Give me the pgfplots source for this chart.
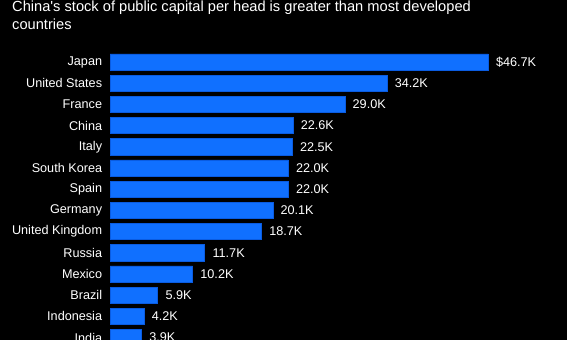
\documentclass[border=0pt]{standalone}
\usepackage{fontspec}
\setmainfont{Liberation Sans}
\usepackage{pgfplots}
\pgfplotsset{compat=1.18}
\definecolor{barblue}{RGB}{16,112,255}
\definecolor{baredge}{RGB}{10,92,225}
\begin{document}
\begin{tikzpicture}
\path[use as bounding box, fill=black] (0,0) rectangle (567bp,340bp);
\clip (0,0) rectangle (567bp,340bp);
\node[anchor=base west, inner sep=0pt, text=white, font=\fontsize{14.7}{18}\selectfont] at (12bp,328.5bp) {China\textquotesingle s stock of public capital per head is greater than most developed};
\node[anchor=base west, inner sep=0pt, text=white, font=\fontsize{14.7}{18}\selectfont] at (12bp,310.5bp) {countries};
\begin{axis}[
  at={(110bp,0bp)}, anchor=south west,
  scale only axis, width=457bp, height=340bp,
  xmin=0, xmax=56.42,
  ymin=-2.925, ymax=13.113, y dir=reverse,
  xbar, bar width=16.3bp, bar shift=0pt,
  axis line style={draw=none},
  xtick=\empty,
  ytick={0,1,2,3,4,5,6,7,8,9,10,11,12,13},
  yticklabels={Japan,United States,France,China,Italy,South Korea,Spain,Germany,United Kingdom,Russia,Mexico,Brazil,Indonesia,India},
  major tick length=0pt,
  yticklabel style={font=\fontsize{12.7}{15}\selectfont, text=white, inner sep=0pt, xshift=-7.7bp, anchor=east},
  nodes near coords,
  point meta=explicit symbolic,
  nodes near coords style={font=\fontsize{12.7}{15}\selectfont, text=white, anchor=west, inner sep=0pt, xshift=7.5bp},
]
\addplot[fill=barblue, draw=baredge, line width=0.6bp] coordinates {
(46.7,0) [\$46.7K]
(34.2,1) [34.2K]
(29.0,2) [29.0K]
(22.6,3) [22.6K]
(22.5,4) [22.5K]
(22.0,5) [22.0K]
(22.0,6) [22.0K]
(20.1,7) [20.1K]
(18.7,8) [18.7K]
(11.7,9) [11.7K]
(10.2,10) [10.2K]
(5.9,11) [5.9K]
(4.2,12) [4.2K]
(3.9,13) [3.9K]
};
\end{axis}
\end{tikzpicture}
\end{document}
